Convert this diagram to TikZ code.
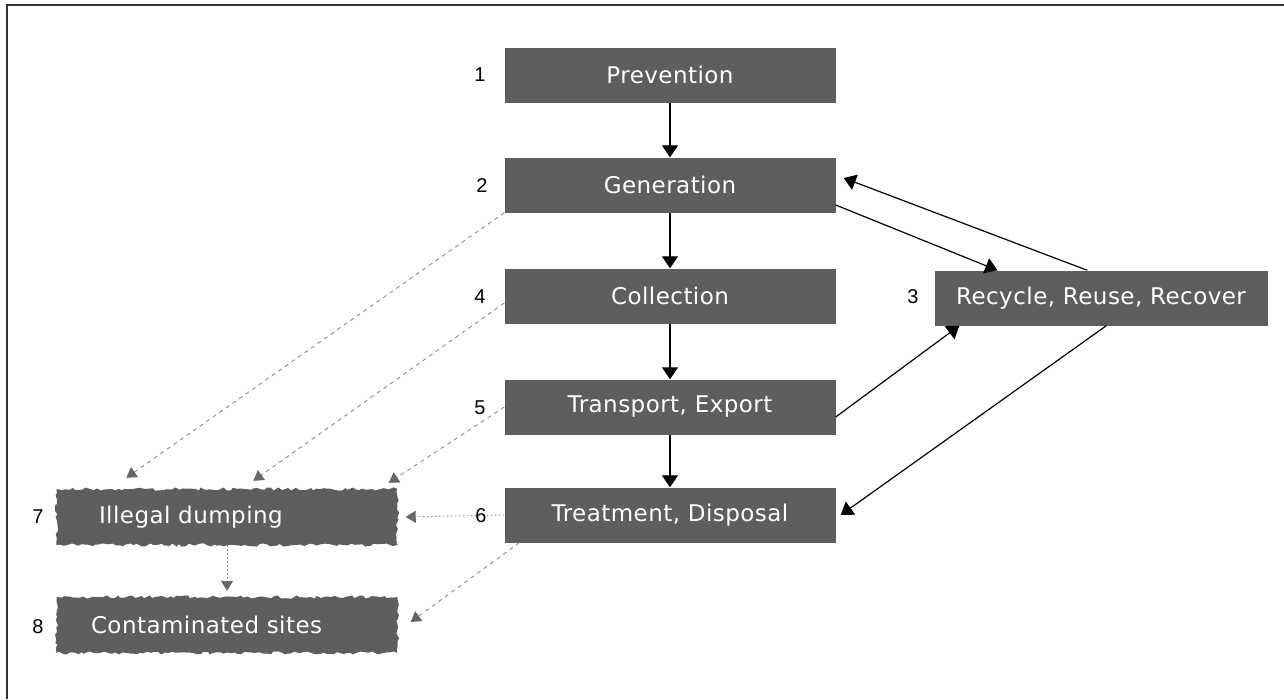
\documentclass[tikz,border=0pt]{standalone}
\usepackage{fontspec}
\usetikzlibrary{arrows.meta,decorations.pathmorphing}
\newfontfamily\boxfont[LetterSpace=2]{DejaVu Sans}
\newfontfamily\numfont{Liberation Sans}
\tikzset{
  stagebox/.style={fill=black!63, text=white, minimum width=331pt, minimum height=55pt,
    inner sep=0pt, font=\boxfont\fontsize{23}{27}\selectfont},
  wavybox/.style={stagebox, minimum width=341pt, minimum height=56pt,
    text width=300pt, align=left,
    decorate, decoration={random steps, segment length=3.5pt, amplitude=1.6pt}},
  numlabel/.style={inner sep=0pt, font=\numfont\fontsize{20}{23}\selectfont},
  flow/.style={draw=black, line width=1.2pt, -{Triangle[width=16pt,length=12pt]}},
  leak/.style={draw=black!45, line width=0.9pt, dash pattern=on 4pt off 4pt,
    -{Triangle[width=12pt,length=10pt,color=black!60,fill=black!60]}},
  leakdot/.style={leak, dash pattern=on 1.5pt off 2.5pt}
}
\begin{document}
\begin{tikzpicture}[x=1pt,y=-1pt]
\useasboundingbox (0,0) rectangle (1284,699);
\draw[line width=2pt, black!80] (7,699) -- (7,5) -- (1284,5);

\node[stagebox] (prev) at (670,75) {Prevention};
\node[stagebox] (gen) at (670,185) {Generation};
\node[stagebox] (col) at (670,296) {Collection};
\node[stagebox] (trans) at (670,407) {Transport, Export};
\node[stagebox] (treat) at (670,515) {Treatment, Disposal};
\node[stagebox, minimum width=333pt] (rec) at (1101,298) {Recycle, Reuse, Recover};
\pgfmathsetseed{7}
\node[wavybox] (ill) at (227,517) {\hspace*{22pt}Illegal dumping};
\node[wavybox] (cont) at (227,625) {\hspace*{14pt}Contaminated sites};

\node[numlabel] (n1) at (480,75) {1};
\node[numlabel] (n2) at (482,186) {2};
\node[numlabel] (n3) at (913,297) {3};
\node[numlabel] (n4) at (480,297) {4};
\node[numlabel] (n5) at (480,408) {5};
\node[numlabel] (n7) at (38,517) {7};
\node[numlabel] (n8) at (38,627) {8};

\draw[flow] (prev.south) -- (gen.north);
\draw[flow] (gen.south) -- (col.north);
\draw[flow] (col.south) -- (trans.north);
\draw[flow] (trans.south) -- (treat.north);
\draw[flow] ([yshift=-20pt]gen.east) -- ([xshift=63pt]rec.north west);
\draw[flow] ([xshift=153pt]rec.north west) -- ([xshift=8pt,yshift=7pt]gen.east);
\draw[flow] ([yshift=-10pt]trans.east) -- ([xshift=25pt]rec.south west);
\draw[flow] ([xshift=172pt]rec.south west) -- ([xshift=5pt]treat.east);

\draw[leak] (gen.south west) -- ([xshift=70pt,yshift=11pt]ill.north west);
\draw[leak] ([yshift=-7pt]col.west) -- ([xshift=197pt,yshift=8pt]ill.north west);
\draw[leak] (trans.west) -- ([xshift=-9pt,yshift=6pt]ill.north east);
\draw[leakdot] (treat.west) -- ([xshift=8pt]ill.east);
\draw[leak] ([xshift=15pt]treat.south west) -- ([xshift=13pt,yshift=3pt]cont.east);
\draw[leakdot] (ill.south) -- ([yshift=6pt]cont.north);

\node[numlabel] (n6) at (481,516) {6};
\end{tikzpicture}
\end{document}
